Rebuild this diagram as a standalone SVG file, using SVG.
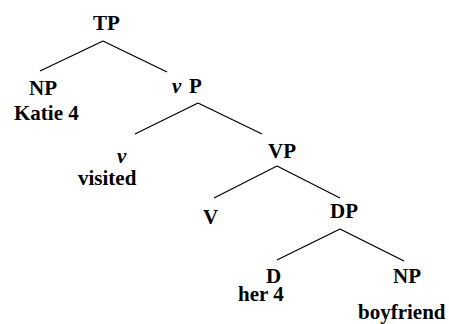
<svg xmlns="http://www.w3.org/2000/svg" width="449" height="324" viewBox="0 0 449 324">
<style>
text{font-family:"Liberation Serif","Times New Roman",serif;font-weight:bold;font-size:21px;fill:#000}
.it{font-style:italic}
line{stroke:#000;stroke-width:1.3}
</style>
<rect width="449" height="324" fill="#fff"/>
<g id="connectors">
<line x1="103" y1="41" x2="40" y2="71"/>
<line x1="103" y1="41" x2="167" y2="72"/>
<line x1="198" y1="103" x2="135" y2="134"/>
<line x1="198" y1="103" x2="262" y2="134"/>
<line x1="277" y1="166" x2="214" y2="198"/>
<line x1="277" y1="166" x2="340" y2="198"/>
<line x1="340" y1="229" x2="277" y2="260"/>
<line x1="340" y1="229" x2="404" y2="261"/>
</g>
<g id="TP"><text x="93" y="30">TP</text></g>
<g id="NP1"><text x="29" y="95">NP</text><text x="14" y="120">Katie 4</text></g>
<g id="vP"><text x="172" y="93"><tspan class="it">v</tspan><tspan x="189">P</tspan></text></g>
<g id="v"><text class="it" x="117" y="163">v</text><text x="78" y="185">visited</text></g>
<g id="VP"><text x="268" y="158">VP</text></g>
<g id="V"><text x="203" y="224">V</text></g>
<g id="DP"><text x="330" y="218">DP</text></g>
<g id="D"><text x="266" y="283">D</text><text x="238" y="301">her 4</text></g>
<g id="NP2"><text x="393" y="283">NP</text><text x="358" y="319">boyfriend</text></g>
</svg>
